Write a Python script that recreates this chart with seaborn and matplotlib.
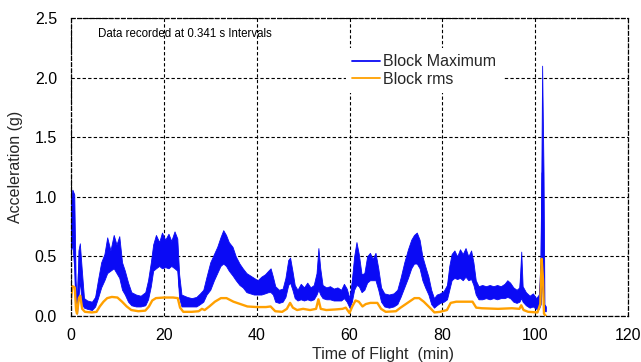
import numpy as np
import pandas as pd
import matplotlib
matplotlib.use("Agg")
import matplotlib.pyplot as plt
from matplotlib.ticker import MultipleLocator
from matplotlib.lines import Line2D
import seaborn as sns

# Block Maximum: time (min) with lower / upper envelope of the noisy band (g)
t_max = [0.0, 0.3, 0.7, 1.0, 1.3, 1.6, 1.9, 2.3, 2.8, 3.5, 4.5, 5.2, 5.8, 6.5, 7.2, 7.8, 8.5, 9.2, 9.8, 10.4,
         11.0, 11.6, 12.3, 13.0, 14.0, 15.0, 16.0, 16.6, 17.2, 17.7, 18.3, 19.0, 19.6, 20.3, 21.0, 21.6, 22.3, 22.9,
         23.3, 23.8, 25.0, 26.0, 27.0, 27.8, 28.5, 29.2, 30.0, 30.8, 31.5, 32.2, 32.8, 33.4, 34.0, 34.8, 35.5, 36.3,
         37.0, 37.8, 38.6, 39.4, 40.2, 41.0, 41.8, 42.5, 43.0, 43.5, 44.0, 44.8, 45.6, 46.2, 46.8, 47.2, 47.7, 48.2,
         48.8, 49.5, 50.2, 50.9, 51.6, 52.3, 52.9, 53.3, 53.7, 54.2, 55.0, 55.8, 56.6, 57.4, 58.2, 58.8, 59.4, 60.0,
         60.5, 61.0, 61.5, 62.0, 62.6, 63.2, 63.8, 64.4, 65.0, 65.6, 66.2, 66.8, 67.5, 68.5, 69.5, 70.3, 71.0, 71.8,
         72.6, 73.3, 73.9, 74.5, 75.1, 75.7, 76.3, 77.0, 77.6, 78.2, 78.8, 79.5, 80.3, 81.0, 81.5, 82.0, 82.6, 83.2,
         83.8, 84.4, 85.0, 85.6, 86.2, 86.7, 87.2, 87.8, 88.6, 89.4, 90.2, 91.0, 91.8, 92.6, 93.4, 94.0, 94.6, 95.3,
         96.0, 96.6, 97.0, 97.3, 98.0, 98.8, 99.5, 100.2, 100.8, 101.2, 101.5, 101.8, 102.0, 102.3]
max_lo = [0.55, 0.60, 0.40, 0.05, 0.02, 0.15, 0.30, 0.10, 0.07, 0.06, 0.05, 0.08, 0.15, 0.24, 0.30, 0.36, 0.38, 0.40, 0.36, 0.32,
          0.22, 0.18, 0.12, 0.09, 0.08, 0.08, 0.09, 0.14, 0.25, 0.38, 0.40, 0.42, 0.40, 0.41, 0.40, 0.42, 0.40, 0.38,
          0.15, 0.08, 0.08, 0.08, 0.08, 0.10, 0.12, 0.18, 0.22, 0.30, 0.36, 0.42, 0.44, 0.42, 0.38, 0.34, 0.30, 0.26,
          0.24, 0.20, 0.19, 0.18, 0.18, 0.18, 0.19, 0.20, 0.20, 0.18, 0.12, 0.11, 0.12, 0.16, 0.26, 0.28, 0.22, 0.15,
          0.13, 0.14, 0.13, 0.14, 0.13, 0.14, 0.18, 0.22, 0.18, 0.15, 0.14, 0.14, 0.13, 0.13, 0.13, 0.15, 0.12, 0.07,
          0.12, 0.22, 0.26, 0.25, 0.20, 0.22, 0.28, 0.30, 0.30, 0.30, 0.22, 0.12, 0.08, 0.07, 0.08, 0.10, 0.16, 0.24,
          0.32, 0.40, 0.44, 0.44, 0.40, 0.30, 0.24, 0.18, 0.10, 0.07, 0.09, 0.11, 0.12, 0.14, 0.22, 0.30, 0.32, 0.31,
          0.32, 0.30, 0.33, 0.30, 0.31, 0.26, 0.18, 0.14, 0.14, 0.15, 0.14, 0.15, 0.14, 0.15, 0.15, 0.16, 0.15, 0.12,
          0.11, 0.12, 0.15, 0.12, 0.09, 0.07, 0.08, 0.06, 0.06, 0.10, 0.30, 0.10, 0.04, 0.04]
max_hi = [0.95, 1.06, 1.02, 0.30, 0.08, 0.55, 0.61, 0.40, 0.15, 0.13, 0.12, 0.16, 0.30, 0.45, 0.52, 0.66, 0.55, 0.68, 0.60, 0.67,
          0.45, 0.38, 0.28, 0.20, 0.18, 0.17, 0.20, 0.30, 0.45, 0.60, 0.68, 0.62, 0.70, 0.64, 0.69, 0.63, 0.71, 0.65,
          0.35, 0.18, 0.16, 0.15, 0.16, 0.19, 0.22, 0.33, 0.45, 0.52, 0.58, 0.66, 0.72, 0.68, 0.62, 0.58, 0.50, 0.44,
          0.40, 0.36, 0.34, 0.32, 0.30, 0.33, 0.35, 0.38, 0.40, 0.33, 0.25, 0.22, 0.23, 0.32, 0.47, 0.49, 0.38, 0.26,
          0.22, 0.27, 0.24, 0.28, 0.24, 0.26, 0.36, 0.57, 0.40, 0.26, 0.24, 0.25, 0.23, 0.24, 0.22, 0.27, 0.23, 0.15,
          0.30, 0.50, 0.62, 0.52, 0.35, 0.36, 0.50, 0.53, 0.48, 0.53, 0.40, 0.24, 0.19, 0.18, 0.19, 0.22, 0.32, 0.45,
          0.56, 0.64, 0.68, 0.70, 0.64, 0.50, 0.42, 0.33, 0.22, 0.15, 0.18, 0.19, 0.21, 0.26, 0.42, 0.52, 0.55, 0.50,
          0.56, 0.52, 0.57, 0.50, 0.55, 0.45, 0.30, 0.25, 0.26, 0.25, 0.26, 0.25, 0.26, 0.25, 0.27, 0.30, 0.28, 0.24,
          0.22, 0.24, 0.54, 0.25, 0.20, 0.17, 0.19, 0.15, 0.18, 0.50, 2.10, 1.20, 0.10, 0.08]

# Block rms
t_rms = [0.0, 0.3, 0.8, 1.1, 1.3, 1.7, 2.0, 2.4, 3.0, 4.5, 5.5, 6.2, 7.0, 7.8, 8.8, 10.0, 11.0, 12.0, 13.0, 14.5,
         16.0, 16.8, 17.5, 18.3, 20.0, 22.0, 23.0, 23.5, 24.2, 26.0, 27.5, 28.2, 28.8, 29.8, 31.0, 32.3, 33.5, 35.0,
         36.5, 38.0, 40.0, 42.0, 43.0, 44.0, 45.5, 46.5, 47.2, 47.8, 48.7, 50.0, 51.5, 52.8, 53.3, 53.8, 55.0, 57.0,
         58.5, 59.2, 60.0, 60.6, 61.3, 62.0, 62.8, 63.5, 64.5, 66.0, 66.8, 67.8, 70.0, 71.0, 72.5, 74.0, 75.0, 76.0,
         77.3, 78.3, 79.5, 81.0, 81.8, 83.0, 85.0, 86.5, 87.3, 88.5, 92.0, 95.0, 96.6, 97.0, 97.5, 98.5, 100.5, 101.1,
         101.4, 101.7, 101.9, 102.3]
rms = [0.15, 0.25, 0.24, 0.05, 0.02, 0.15, 0.17, 0.06, 0.035, 0.03, 0.035, 0.08, 0.12, 0.15, 0.16, 0.155, 0.12, 0.08, 0.05, 0.04,
       0.045, 0.08, 0.13, 0.15, 0.155, 0.155, 0.15, 0.07, 0.035, 0.035, 0.04, 0.06, 0.05, 0.08, 0.12, 0.15, 0.15, 0.12,
       0.10, 0.08, 0.075, 0.075, 0.08, 0.04, 0.035, 0.06, 0.11, 0.07, 0.05, 0.06, 0.05, 0.06, 0.14, 0.06, 0.05, 0.055,
       0.06, 0.07, 0.025, 0.08, 0.13, 0.12, 0.08, 0.10, 0.11, 0.11, 0.06, 0.035, 0.04, 0.07, 0.11, 0.15, 0.15, 0.12,
       0.07, 0.03, 0.035, 0.05, 0.11, 0.12, 0.12, 0.12, 0.07, 0.065, 0.06, 0.065, 0.06, 0.09, 0.05, 0.035, 0.03, 0.10,
       0.48, 0.30, 0.02, 0.00]

series_names = ["Block Maximum", "Block rms"]

BLUE = "#0a0af5"
ORANGE = "#ffa000"

df_max = pd.DataFrame({
    "t": list(t_max) + list(t_max),
    "g": list(max_lo) + list(max_hi),
})
df_rms = pd.DataFrame({"t": t_rms, "g": rms})

sns.set_style("white")
plt.rcParams["font.family"] = ["Liberation Sans", "DejaVu Sans"]

fig = plt.figure(figsize=(6.41, 3.62), dpi=100)
ax = fig.add_axes([71 / 641, 1 - 316 / 362, 557 / 641, 298 / 362])

sns.lineplot(data=df_max, x="t", y="g", estimator="mean", errorbar=("pi", 100),
             color=BLUE, lw=0.8, err_kws=dict(alpha=1, linewidth=0.6, edgecolor=BLUE),
             legend=False, ax=ax)
sns.lineplot(data=df_rms, x="t", y="g", color=ORANGE, lw=1.7, legend=False, ax=ax)

ax.set_xlim(0, 120)
ax.set_ylim(0, 2.5)
ax.xaxis.set_major_locator(MultipleLocator(20))
ax.xaxis.set_minor_locator(MultipleLocator(4))
ax.yaxis.set_major_locator(MultipleLocator(0.5))
ax.yaxis.set_minor_locator(MultipleLocator(0.1))
ax.set_yticks([0, 0.5, 1.0, 1.5, 2.0, 2.5])
ax.set_yticklabels(["0.0", "0.5", "1.0", "1.5", "2.0", "2.5"])

ax.grid(True, which="major", color="black", linestyle=(0, (3, 2)), linewidth=0.8)
for s in ax.spines.values():
    s.set_visible(True)
    s.set_color("black")
    s.set_linestyle((0, (3, 2)))
    s.set_linewidth(0.9)

ax.tick_params(axis="both", which="both", direction="in", colors="black", labelsize=11.5)
ax.tick_params(axis="both", which="major", length=4, width=0.8)
ax.tick_params(axis="both", which="minor", length=2.5, width=0.8)
ax.tick_params(axis="y", which="major", pad=10)
ax.tick_params(axis="x", which="major", pad=8.5)

ax.set_xlabel("Time of Flight  (min)", fontsize=11.5)
ax.set_ylabel("Acceleration (g)", fontsize=11.5)
ax.xaxis.set_label_coords(0.56, -0.104)
ax.yaxis.set_label_coords(-0.086, 0.5)

ax.text(0.048, 0.946, "Data recorded at 0.341 s Intervals", transform=ax.transAxes,
        fontsize=8.3, ha="left", va="center", color="black")

handles = [Line2D([], [], color=BLUE, lw=1.3), Line2D([], [], color=ORANGE, lw=1.3)]
leg = ax.legend(handles, series_names, loc="upper left", bbox_to_anchor=(0.493, 0.899), frameon=True,
                fontsize=11.5, borderaxespad=0, borderpad=0.4, handlelength=1.75, handletextpad=0.2,
                labelspacing=0.15, fancybox=False, framealpha=1)
leg.get_frame().set_facecolor("white")
leg.get_frame().set_edgecolor("none")

fig.savefig("out.png", dpi=100)
